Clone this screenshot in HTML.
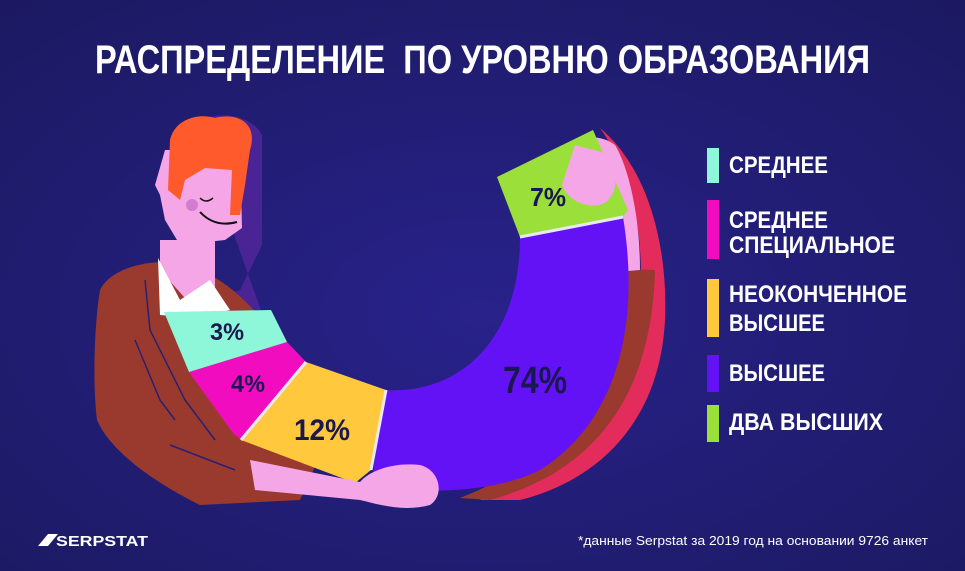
<!DOCTYPE html>
<html><head><meta charset="utf-8"><style>
html,body{margin:0;padding:0;width:965px;height:571px;overflow:hidden;background:#221d72}
svg{display:block}
text{font-family:"Liberation Sans","DejaVu Sans",sans-serif;font-weight:bold}
</style></head><body>
<svg width="965" height="571" viewBox="0 0 965 571" xmlns="http://www.w3.org/2000/svg">
<defs>
<radialGradient id="bg" cx="50%" cy="55%" r="75%">
<stop offset="0" stop-color="#28228a"/><stop offset="1" stop-color="#1b1960"/>
</radialGradient>
</defs>
<rect width="965" height="571" fill="url(#bg)"/>
<text x="95" y="73" font-size="40" fill="#fff" textLength="775" lengthAdjust="spacingAndGlyphs">РАСПРЕДЕЛЕНИЕ&#160; ПО УРОВНЮ ОБРАЗОВАНИЯ</text>

<!-- person shadow -->
<path d="M195,125 C210,110 250,112 262,135 L262,245 L240,290 L215,300 L255,320 L300,360 L330,400 L300,420 Z" fill="#4a2494"/>
<!-- right side shadow stripes -->
<path d="M600,128 C650,170 668,250 665,320 C660,420 600,480 520,500 L480,500 C560,470 625,400 640,300 C645,230 630,170 600,128 Z" fill="#e42c5c"/>
<path d="M612,268 L655,270 C652,390 600,470 490,500 L460,498 C560,460 600,380 612,268 Z" fill="#9a3a2e"/>
<!-- top hand / arm -->
<path d="M560,150 C575,135 600,133 615,145 C630,170 640,220 640,270 L615,272 C612,240 605,215 598,205 C580,212 565,200 560,185 Z" fill="#f4a6e6"/>

<!-- jacket -->
<path d="M100,290 C110,270 140,262 165,262 L210,275 C240,290 262,320 290,350 L340,410 L300,500 L200,505 C150,480 110,450 97,420 C92,380 95,320 100,290 Z" fill="#9a3a2e"/>
<path d="M145,280 L150,330 L185,400 L215,440 M135,340 L160,400 L175,420 M170,445 L235,470" stroke="#2a1f70" stroke-width="1.5" fill="none"/>
<!-- neck & face -->
<path d="M160,240 L215,240 L215,300 L200,315 L160,270 Z" fill="#f4a6e6"/>
<path d="M158,258 L180,300 L210,280 L230,310 L200,318 L160,315 Z" fill="#ffffff"/>
<path d="M165,150 L240,150 L242,228 L225,240 L180,245 L165,220 L160,195 L155,185 Z" fill="#f4a6e6"/>
<path d="M170,140 C175,118 200,113 215,118 C240,112 258,125 250,150 L245,185 L240,215 L230,215 L232,170 L205,168 L185,180 L180,200 L168,190 Z" fill="#ff5a2b"/>
<circle cx="192" cy="205" r="6" fill="#d27cd0"/>
<path d="M200,198 Q206,204 213,198" stroke="#111" stroke-width="1.5" fill="none"/>
<path d="M200,212 Q215,228 237,222" stroke="#111" stroke-width="2" fill="none"/>

<!-- chart segments -->
<path d="M384,390 C460,395 520,340 520,237 L623,217 C640,320 620,420 540,470 C490,495 420,492 371,488 Z" fill="#6312f5"/>
<path d="M497,177 L593,130 L628,210 L623,217 L520,237 Z" fill="#9be03a"/>
<path d="M306,362 L386,390 L371,470 L355,483 L241,440 Z" fill="#ffc83d"/>
<path d="M189,372 L287,342 L306,362 L241,440 L233,433 Z" fill="#f20cc0"/>
<path d="M164,312 L271,310 L287,342 L189,372 Z" fill="#8ef7d9"/>
<path d="M306,362 L241,440 M386,390 L371,470 M520,237 L623,217" stroke="#e8e8f0" stroke-width="3"/>
<!-- bottom arm/hand -->
<path d="M250,460 L360,482 C370,470 395,462 420,465 C440,470 445,495 430,505 C405,512 380,505 360,500 L255,490 Z" fill="#f4a6e6"/>
<path d="M575,145 C590,150 605,150 612,160 C620,180 615,200 600,205 C585,208 568,200 562,185 Z" fill="#f4a6e6"/>

<g fill="#1a1850" text-anchor="middle">
<text x="227" y="340" font-size="24" textLength="34" lengthAdjust="spacingAndGlyphs">3%</text>
<text x="248" y="392" font-size="24" textLength="34" lengthAdjust="spacingAndGlyphs">4%</text>
<text x="322" y="440" font-size="30" textLength="56" lengthAdjust="spacingAndGlyphs">12%</text>
<text x="535" y="393" font-size="38" textLength="64" lengthAdjust="spacingAndGlyphs">74%</text>
<text x="548" y="206" font-size="26" textLength="36" lengthAdjust="spacingAndGlyphs">7%</text>
</g>

<!-- legend -->
<rect x="707" y="148" width="12" height="35" fill="#8ef7d9"/>
<rect x="707" y="200" width="12" height="59" fill="#f20cc0"/>
<rect x="707" y="279" width="12" height="58" fill="#ffc83d"/>
<rect x="707" y="355" width="12" height="37" fill="#6312f5"/>
<rect x="707" y="405" width="12" height="37" fill="#9be03a"/>
<g fill="#fff" font-size="24">
<text x="729" y="173" textLength="99" lengthAdjust="spacingAndGlyphs">СРЕДНЕЕ</text>
<text x="729" y="228" textLength="99" lengthAdjust="spacingAndGlyphs">СРЕДНЕЕ</text>
<text x="729" y="253" textLength="166" lengthAdjust="spacingAndGlyphs">СПЕЦИАЛЬНОЕ</text>
<text x="729" y="302" textLength="178" lengthAdjust="spacingAndGlyphs">НЕОКОНЧЕННОЕ</text>
<text x="729" y="331" textLength="96" lengthAdjust="spacingAndGlyphs">ВЫСШЕЕ</text>
<text x="729" y="381" textLength="96" lengthAdjust="spacingAndGlyphs">ВЫСШЕЕ</text>
<text x="729" y="430" textLength="154" lengthAdjust="spacingAndGlyphs">ДВА ВЫСШИХ</text>
</g>

<!-- footer -->
<path d="M38,546 L48,534 L58,534 L48,546 Z" fill="#fff"/>
<text x="56" y="546" font-size="15" fill="#fff" textLength="92" lengthAdjust="spacingAndGlyphs">SERPSTAT</text>
<text x="578" y="545" font-size="13" style="font-weight:normal" fill="#fff" textLength="350" lengthAdjust="spacingAndGlyphs">*данные Serpstat за 2019 год на основании 9726 анкет</text>
</svg>
</body></html>
